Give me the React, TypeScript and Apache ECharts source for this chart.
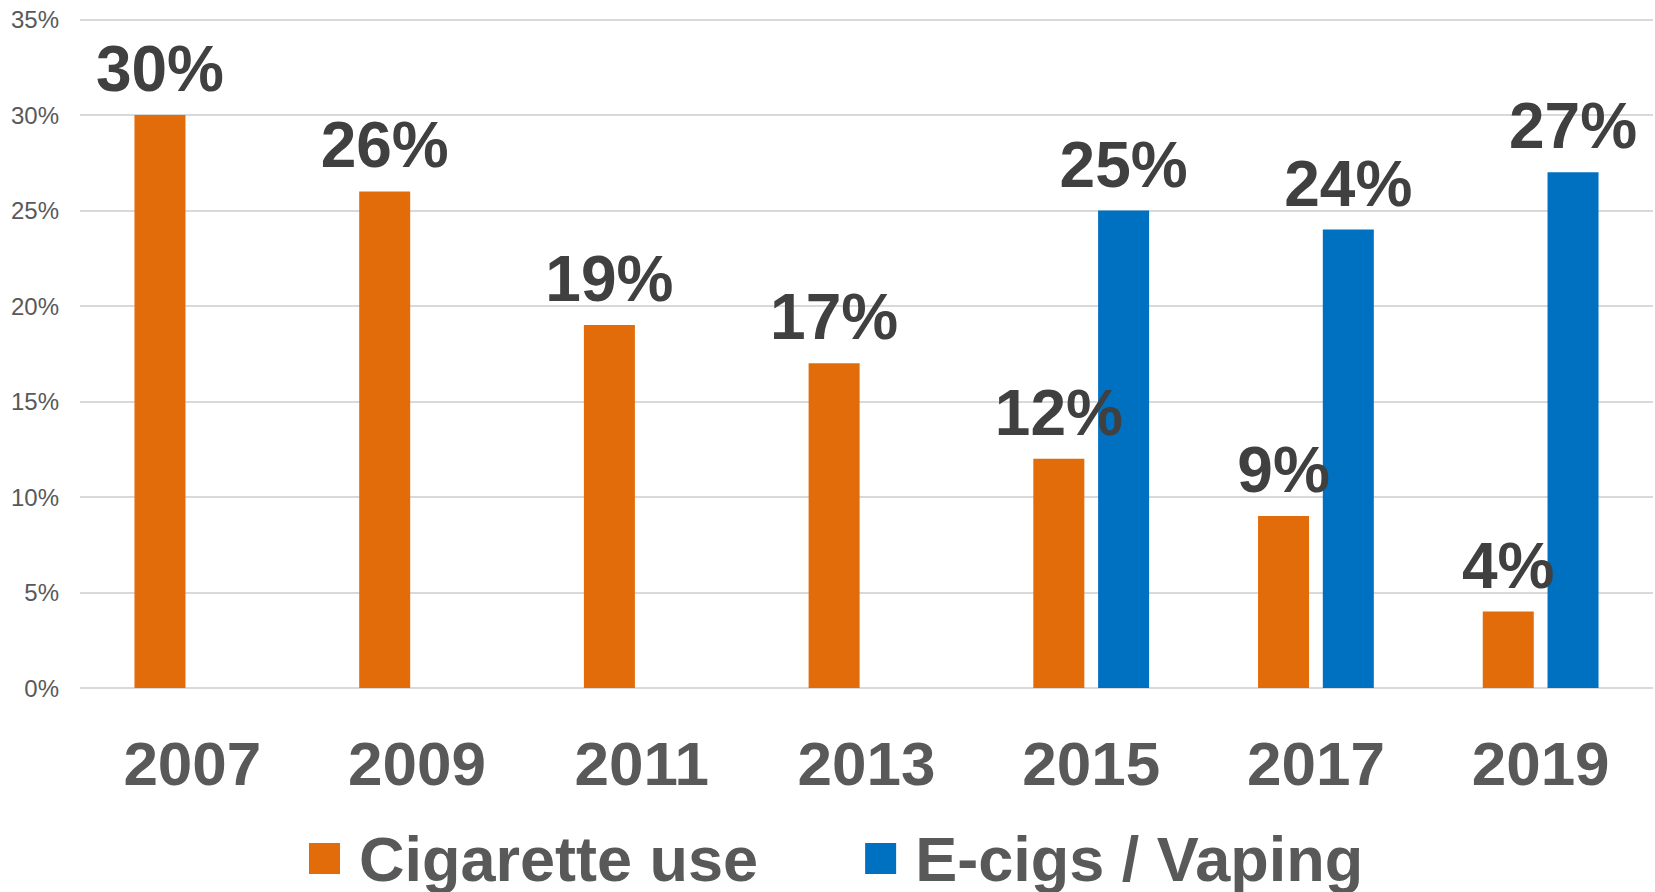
import React, { useEffect, useRef } from "react";
import * as echarts from "echarts";

const years = ["2007", "2009", "2011", "2013", "2015", "2017", "2019"];
const cigaretteUse = [30, 26, 19, 17, 12, 9, 4];
const vaping = [null, null, null, null, 25, 24, 27];
const seriesNames = ["Cigarette use", "E-cigs / Vaping"];
const yTicks = { min: 0, max: 35, interval: 5 };

export default function App() {
  const ref = useRef<HTMLDivElement>(null);
  useEffect(() => {
    document.body.style.margin = "0";
    const chart = echarts.init(ref.current!, null, { renderer: "svg" });
    const font = "Arial, 'Liberation Sans', sans-serif";
    const dataLabel = {
      show: true,
      position: "top",
      distance: 14,
      formatter: "{c}%",
      color: "#404040",
      fontSize: 64,
      fontWeight: "bold",
      fontFamily: font,
    };
    chart.setOption({
      animation: false,
      textStyle: { fontFamily: font },
      grid: { left: 80, right: 2, top: 19.5, bottom: 204, containLabel: false },
      legend: {
        data: seriesNames,
        top: 827,
        left: 309,
        padding: 0,
        icon: "rect",
        itemWidth: 31,
        itemHeight: 31,
        itemGap: 107,
        textStyle: {
          fontSize: 63,
          fontWeight: "bold",
          color: "#595959",
          fontFamily: font,
          padding: [0, 0, 0, 14],
        },
      },
      xAxis: {
        type: "category",
        data: years,
        axisLine: { show: false },
        axisTick: { show: false },
        axisLabel: {
          fontSize: 62,
          fontWeight: "bold",
          color: "#595959",
          margin: 44,
          fontFamily: font,
        },
      },
      yAxis: {
        type: "value",
        min: yTicks.min,
        max: yTicks.max,
        interval: yTicks.interval,
        axisLine: { show: false },
        axisTick: { show: false },
        splitLine: { lineStyle: { color: "#d9d9d9", width: 2 } },
        axisLabel: {
          formatter: "{value}%",
          fontSize: 24,
          color: "#595959",
          margin: 21,
          fontFamily: font,
        },
      },
      series: [
        {
          name: seriesNames[0],
          type: "bar",
          data: cigaretteUse,
          barWidth: 51,
          barGap: "27%",
          z: 3,
          itemStyle: { color: "#E36C0A" },
          label: dataLabel,
        },
        {
          name: seriesNames[1],
          type: "bar",
          data: vaping,
          barWidth: 51,
          barGap: "27%",
          z: 2,
          itemStyle: { color: "#0070C0" },
          label: dataLabel,
        },
      ],
    });
    return () => chart.dispose();
  }, []);
  return <div ref={ref} style={{ width: 1655, height: 892 }} />;
}
